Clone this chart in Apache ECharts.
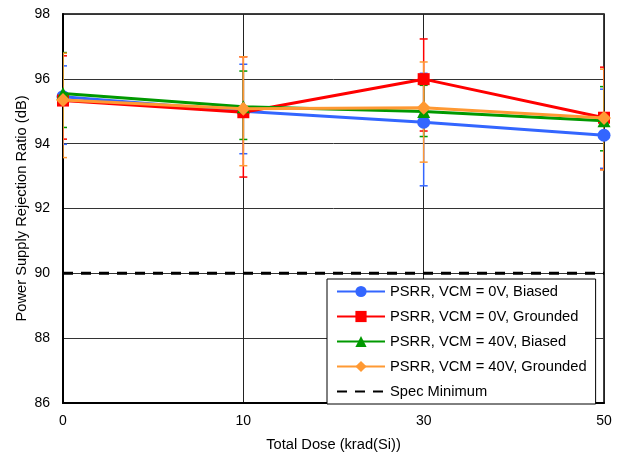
<!DOCTYPE html>
<html>
<head>
<meta charset="utf-8">
<script src="https://cdn.jsdelivr.net/npm/echarts@6/dist/echarts.min.js"></script>
<style>html,body{margin:0;padding:0;background:#fff;}#c{width:623px;height:455px;}</style>
</head>
<body>
<div id="c"></div>
<script>
var categories = ['0', '10', '30', '50'];
var yTicks = [86, 88, 90, 92, 94, 96, 98];

var names = ['PSRR, VCM = 0V, Biased', 'PSRR, VCM = 0V, Grounded', 'PSRR, VCM = 40V, Biased', 'PSRR, VCM = 40V, Grounded', 'Spec Minimum'];

var biased0 = [95.45, 95.00, 94.66, 94.26];
var biased0Low = [93.98, 93.69, 92.70, 93.24];
var biased0High = [96.40, 96.45, 96.17, 95.68];

var grounded0 = [95.33, 94.97, 95.99, 94.80];
var grounded0Low = [94.14, 92.97, 94.39, 93.20];
var grounded0High = [96.71, 96.68, 97.23, 96.36];

var biased40 = [95.55, 95.14, 94.99, 94.71];
var biased40Low = [94.50, 94.13, 94.22, 93.78];
var biased40High = [96.81, 96.24, 95.80, 95.76];

var grounded40 = [95.35, 95.08, 95.11, 94.79];
var grounded40Low = [93.57, 93.32, 93.43, 93.19];
var grounded40High = [96.79, 96.68, 96.52, 96.30];

var specMin = [90, 90, 90, 90];

var colors = ['#3366FF', '#FF0000', '#009900', '#FF9933', '#000000'];
var symbols = ['circle', 'rect', 'triangle', 'diamond'];
var symbolSizes = [13, 12, 13, 14];
var FONT = 'Liberation Sans, Arial, sans-serif';

var values = [biased0, grounded0, biased40, grounded40];
var lows = [biased0Low, grounded0Low, biased40Low, grounded40Low];
var highs = [biased0High, grounded0High, biased40High, grounded40High];

function errRender(color) {
  return function (params, api) {
    var x = api.value(0);
    var top = api.coord([x, api.value(2)]);
    var bot = api.coord([x, api.value(1)]);
    var hw = 4;
    var st = { stroke: color, lineWidth: 1.5 };
    return {
      type: 'group',
      children: [
        { type: 'line', shape: { x1: top[0], y1: top[1], x2: bot[0], y2: bot[1] }, style: st },
        { type: 'line', shape: { x1: top[0] - hw, y1: top[1], x2: top[0] + hw, y2: top[1] }, style: st },
        { type: 'line', shape: { x1: bot[0] - hw, y1: bot[1], x2: bot[0] + hw, y2: bot[1] }, style: st }
      ]
    };
  };
}

var series = [];
for (var s = 0; s < 4; s++) {
  series.push({
    type: 'custom',
    name: names[s] + ' err',
    renderItem: errRender(colors[s]),
    clip: true,
    z: 2,
    encode: { x: 0, y: [1, 2] },
    data: categories.map(function (c, i) { return [i, lows[s][i], highs[s][i]]; })
  });
}
series.push({
  type: 'line',
  name: names[4],
  data: specMin,
  symbol: 'none',
  z: 3,
  lineStyle: { color: '#000', width: 3, type: [10, 8] },
  itemStyle: { color: '#000' }
});
for (var k = 0; k < 4; k++) {
  series.push({
    type: 'line',
    name: names[k],
    data: values[k],
    symbol: symbols[k],
    symbolSize: symbolSizes[k],
    z: 4 + k,
    lineStyle: { color: colors[k], width: 3 },
    itemStyle: { color: colors[k] }
  });
}

var chart = echarts.init(document.getElementById('c'), null, { renderer: 'canvas' });
chart.setOption({
  animation: false,
  backgroundColor: '#fff',
  textStyle: { fontFamily: FONT },
  grid: { left: 63, right: 19, top: 14, bottom: 52, outerBoundsMode: 'none', show: true, borderColor: '#000', borderWidth: 1.5, backgroundColor: 'transparent' },
  legend: {
    orient: 'vertical',
    left: 327,
    top: 279,
    padding: [5, 9, 5, 9],
    itemWidth: 48,
    itemHeight: 14,
    itemGap: 10,
    backgroundColor: '#fff',
    borderColor: '#000',
    borderWidth: 1,
    z: 20,
    data: [names[0], names[1], names[2], names[3], { name: names[4], itemStyle: { opacity: 0 } }],
    textStyle: { fontSize: 14.7, color: '#000', fontFamily: FONT }
  },
  xAxis: {
    type: 'category',
    data: categories,
    boundaryGap: false,
    name: 'Total Dose (krad(Si))',
    nameLocation: 'middle',
    nameGap: 34,
    nameMoveOverlap: false,
    nameTextStyle: { fontSize: 14.7, color: '#000', fontFamily: FONT },
    axisLine: { lineStyle: { color: '#000', width: 2 } },
    axisTick: { show: false },
    axisLabel: { fontSize: 14, color: '#000', margin: 11, fontFamily: FONT },
    splitLine: { show: true, lineStyle: { color: '#222', width: 1 } }
  },
  yAxis: {
    type: 'value',
    min: yTicks[0],
    max: yTicks[yTicks.length - 1],
    interval: 2,
    name: 'Power Supply Rejection Ratio (dB)',
    nameLocation: 'middle',
    nameGap: 34,
    nameMoveOverlap: false,
    nameTextStyle: { fontSize: 14.7, color: '#000', fontFamily: FONT },
    axisLine: { show: true, lineStyle: { color: '#000', width: 2 } },
    axisTick: { show: false },
    axisLabel: { fontSize: 14, color: '#000', margin: 13, fontFamily: FONT },
    splitLine: { show: true, lineStyle: { color: '#333', width: 1 } }
  },
  series: series
});
</script>
</body>
</html>
